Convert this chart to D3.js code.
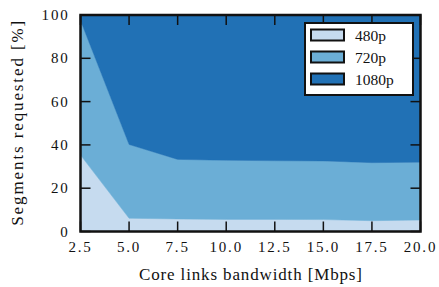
<!DOCTYPE html>
<html>
<head>
<meta charset="utf-8">
<script src="https://cdn.jsdelivr.net/npm/d3@7"></script>
<style>
  body { margin: 0; background: #fff; }
  svg text { font-family: "Liberation Serif", "DejaVu Serif", serif; fill: #111; }
</style>
</head>
<body>
<div id="chart"></div>
<script>
// bandwidth values on the x axis
var bandwidth = [2.5, 5.0, 7.5, 10.0, 12.5, 15.0, 17.5, 20.0];
// share of segments requested per quality [%]
var share480 = [35.3, 6.1, 5.8, 5.6, 5.6, 5.5, 5.0, 5.3];
var share720 = [62.2, 34.1, 27.5, 27.3, 27.1, 27.1, 26.8, 26.7];
var share1080 = [2.5, 59.8, 66.7, 67.1, 67.3, 67.4, 68.2, 68.0];

var seriesNames = ['480p', '720p', '1080p'];
var seriesColors = ['#c6dbef', '#6baed6', '#2171b5'];
var xTicks = [2.5, 5.0, 7.5, 10.0, 12.5, 15.0, 17.5, 20.0];
var yTicks = [0, 20, 40, 60, 80, 100];

var width = 439, height = 287;
var margin = { top: 15, right: 18.5, bottom: 55.5, left: 80.5 };
var innerW = width - margin.left - margin.right;
var innerH = height - margin.top - margin.bottom;

var rows = bandwidth.map(function(b, i) {
    return { bw: b, '480p': share480[i], '720p': share720[i], '1080p': share1080[i] };
});

var stacked = d3.stack().keys(seriesNames)(rows);

var x = d3.scaleLinear().domain([2.5, 20]).range([0, innerW]);
var y = d3.scaleLinear().domain([0, 100]).range([innerH, 0]);

var svg = d3.select('#chart').append('svg')
    .attr('width', width)
    .attr('height', height);

var g = svg.append('g')
    .attr('transform', `translate(${margin.left}, ${margin.top})`);

var area = d3.area()
    .x(function(d) { return x(d.data.bw); })
    .y0(function(d) { return y(d[0]); })
    .y1(function(d) { return y(d[1]); });

g.selectAll('path.layer')
    .data(stacked)
    .enter()
    .append('path')
    .attr('class', 'layer')
    .attr('d', area)
    .attr('fill', function(d, i) { return seriesColors[i]; })
    .attr('stroke', function(d, i) { return seriesColors[i]; })
    .attr('stroke-width', 0.5);

// ticks, pointing inward, on all four sides
var tickLen = 10;
var tickStyle = function(sel) {
    sel.attr('stroke', '#111').attr('stroke-width', 1.5);
};

g.selectAll('line.xtb').data(xTicks).enter().append('line')
    .attr('x1', function(d) { return x(d); }).attr('x2', function(d) { return x(d); })
    .attr('y1', innerH).attr('y2', innerH - tickLen).call(tickStyle);
g.selectAll('line.xtt').data(xTicks).enter().append('line')
    .attr('x1', function(d) { return x(d); }).attr('x2', function(d) { return x(d); })
    .attr('y1', 0).attr('y2', tickLen).call(tickStyle);
g.selectAll('line.ytl').data(yTicks).enter().append('line')
    .attr('y1', function(d) { return y(d); }).attr('y2', function(d) { return y(d); })
    .attr('x1', 0).attr('x2', tickLen).call(tickStyle);
g.selectAll('line.ytr').data(yTicks).enter().append('line')
    .attr('y1', function(d) { return y(d); }).attr('y2', function(d) { return y(d); })
    .attr('x1', innerW).attr('x2', innerW - tickLen).call(tickStyle);

// frame
g.append('rect')
    .attr('x', 0).attr('y', 0)
    .attr('width', innerW).attr('height', innerH)
    .attr('fill', 'none')
    .attr('stroke', '#111')
    .attr('stroke-width', 2.5);

// tick labels
g.selectAll('text.xl').data(xTicks).enter().append('text')
    .attr('x', function(d) { return x(d); })
    .attr('y', innerH + 20)
    .attr('text-anchor', 'middle')
    .style('font-size', '15px')
    .style('letter-spacing', '1.8px')
    .text(function(d) { return d.toFixed(1); });

g.selectAll('text.yl').data(yTicks).enter().append('text')
    .attr('x', -11)
    .attr('y', function(d) { return y(d) + 5; })
    .attr('text-anchor', 'end')
    .style('font-size', '15px')
    .style('letter-spacing', '1.8px')
    .text(function(d) { return d; });

// axis titles
svg.append('text')
    .attr('x', margin.left + innerW / 2)
    .attr('y', 280)
    .attr('text-anchor', 'middle')
    .attr('textLength', 223)
    .attr('lengthAdjust', 'spacing')
    .style('font-size', '17px')
    .text('Core links bandwidth [Mbps]');

svg.append('text')
    .attr('transform', `translate(23, ${margin.top + innerH / 2}) rotate(-90)`)
    .attr('text-anchor', 'middle')
    .attr('textLength', 205)
    .attr('lengthAdjust', 'spacing')
    .style('font-size', '17px')
    .text('Segments requested [%]');

// legend
var legend = svg.append('g').attr('transform', 'translate(305, 23)');
legend.append('rect')
    .attr('width', 108).attr('height', 72)
    .attr('fill', '#fff')
    .attr('stroke', '#111')
    .attr('stroke-width', 2);

var items = legend.selectAll('g.item').data(seriesNames).enter().append('g')
    .attr('transform', function(d, i) { return `translate(6, ${6.5 + i * 22})`; });
items.append('rect')
    .attr('width', 33).attr('height', 11)
    .attr('fill', function(d, i) { return seriesColors[i]; })
    .attr('stroke', '#111')
    .attr('stroke-width', 2);
items.append('text')
    .attr('x', 44).attr('y', 11)
    .style('font-size', '15.5px')
    .text(function(d) { return d; });
</script>
</body>
</html>
